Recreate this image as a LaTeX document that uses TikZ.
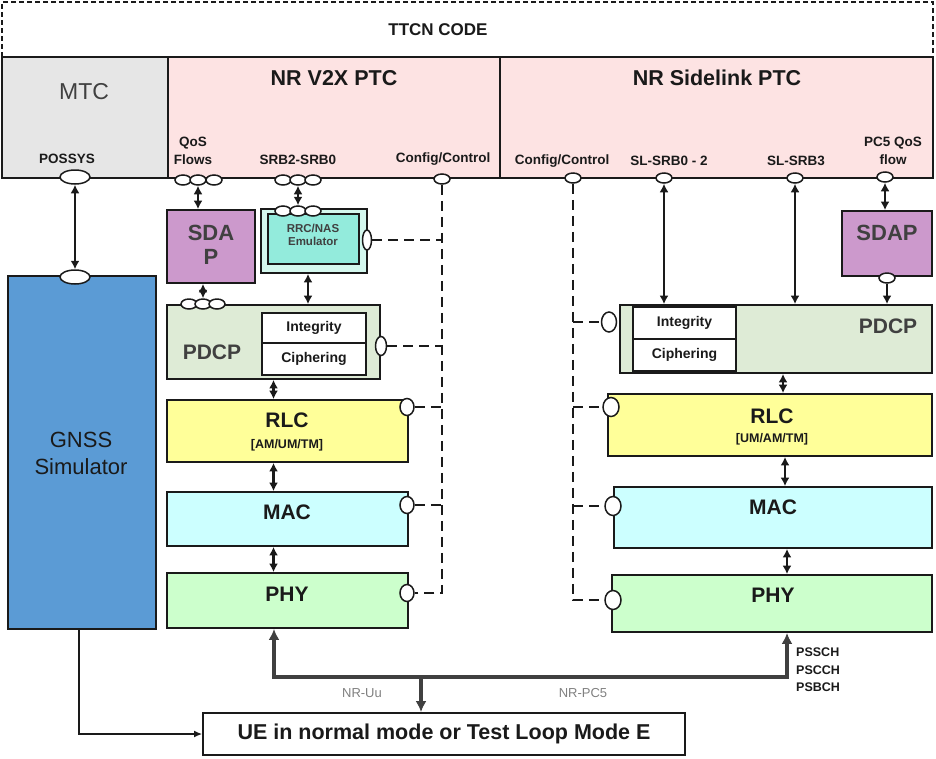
\documentclass[tikz,border=0pt]{standalone}
\usepackage{fontspec}
\setmainfont{Liberation Sans}
\usetikzlibrary{arrows.meta,fit,shapes.geometric}
\definecolor{mtcgray}{HTML}{E6E6E6}
\definecolor{ptcpink}{HTML}{FDE3E3}
\definecolor{sdapc}{HTML}{CC99CC}
\definecolor{rrcout}{HTML}{D4F8EE}
\definecolor{rrcin}{HTML}{93EBDC}
\definecolor{pdcpc}{HTML}{DEEBD6}
\definecolor{rlcc}{HTML}{FFFF99}
\definecolor{macc}{HTML}{CCFFFF}
\definecolor{phyc}{HTML}{CCFFCC}
\definecolor{gnssc}{HTML}{5B9BD5}
\definecolor{ink}{HTML}{1A1A1A}
\definecolor{dim}{HTML}{404040}
\definecolor{lgray}{HTML}{808080}
\begin{document}
\begin{tikzpicture}[x=1pt,y=-1pt,
 box/.style={draw=ink, line width=1.8pt, inner sep=0pt},
 port/.style={ellipse, draw=ink, line width=1.5pt, fill=white, inner sep=0pt, minimum width=16, minimum height=10},
 vport/.style={port, minimum width=12, minimum height=19},
 lbl/.style={font=\fontsize{13.5}{18}\selectfont\bfseries, text=ink, align=center, inner sep=0pt},
 ttl/.style={font=\fontsize{21.5}{24}\selectfont\bfseries, text=ink, align=center, inner sep=0pt},
 layer/.style={font=\fontsize{21}{24}\selectfont\bfseries, text=ink, align=center, inner sep=0pt},
 sub/.style={font=\fontsize{12.5}{17.5}\selectfont\bfseries, text=ink, inner sep=0pt},
 secbox/.style={font=\fontsize{14}{16}\selectfont\bfseries, text=ink, inner sep=0pt},
 dbl/.style={{Latex[length=8.5pt,width=9pt]}-{Latex[length=8.5pt,width=9pt]}, line width=2.5pt, draw=ink},
 one/.style={-{Latex[length=8.5pt,width=9pt]}, line width=2.5pt, draw=ink},
 ctl/.style={draw=ink, line width=2.2pt, dash pattern=on 10pt off 6pt},
 bus/.style={draw=dim, line width=3.6pt, line join=miter},
]
\useasboundingbox (0,0) rectangle (936,758);

% outer TTCN frame
\node[box, line width=1.3pt, dash pattern=on 5pt off 3pt, fit={(2,2)(933,178)}] (ttcn) {};
\node[font=\fontsize{17}{20}\selectfont\bfseries, text=ink, inner sep=0pt] (ttcnl) at (438,30) {TTCN CODE};

% top components
\node[box, fill=mtcgray, fit={(2,57)(168,178)}] (mtc) {};
\node[box, fill=ptcpink, fit={(168,57)(500,178)}] (v2x) {};
\node[box, fill=ptcpink, fit={(500,57)(933,178)}] (slk) {};
\node[font=\fontsize{23}{26}\selectfont, text=dim, inner sep=0pt] (mtcl) at (84,92) {MTC};
\node[ttl] (v2xl) at (334,78) {NR V2X PTC};
\node[ttl] (slkl) at (717,78) {NR Sidelink PTC};

% port labels
\node[lbl] (l1) at (67,159) {POSSYS};
\node[lbl] (l2) at (193,151) {QoS\\Flows};
\node[lbl] (l3) at (298,160) {SRB2-SRB0};
\node[lbl] (l4) at (443,159) {Config/Control};
\node[lbl] (l5) at (562,161) {Config/Control};
\node[lbl] (l6) at (669,161) {SL-SRB0 - 2};
\node[lbl] (l7) at (796,161) {SL-SRB3};
\node[lbl] (l8) at (893,151) {PC5 QoS\\flow};

% ports on PTC border
\node[port, minimum width=30, minimum height=14] (possys) at (75,177) {};
\node[port] (qos1) at (183,180) {};
\node[port] (qos2) at (198,180) {};
\node[port] (qos3) at (214,180) {};
\node[port] (srb1) at (283,180) {};
\node[port] (srb2) at (298,180) {};
\node[port] (srb3) at (313,180) {};
\node[port] (cfgL) at (442,179) {};
\node[port] (cfgR) at (573,178) {};
\node[port] (sl02) at (664,178) {};
\node[port] (sl3) at (795,178) {};
\node[port] (pc5) at (885,177) {};

% GNSS
\node[box, fill=gnssc, fit={(8,276)(156,629)}] (gnss) {};
\node[font=\fontsize{22}{27}\selectfont, text=ink, align=center, inner sep=0pt] (gnssl) at (81,453) {GNSS\\Simulator};
\node[port, minimum width=30, minimum height=14] (gnssp) at (75,277) {};
\draw[dbl] (possys.south) -- (gnssp.north);

% left SDAP
\node[box, fill=sdapc, fit={(167,210)(255,283)}] (sdapL) {};
\node[font=\fontsize{22}{24}\selectfont\bfseries, text=dim, align=center, inner sep=0pt] (sdapLl) at (211,245) {SDA\\P};
\draw[dbl] (qos2.south) -- (qos2.south |- sdapL.north);

% RRC/NAS emulator
\node[box, fill=rrcout, fit={(261,209)(367,273)}] (rrcO) {};
\node[box, fill=rrcin, fit={(268,214)(359,264)}] (rrc) {};
\node[font=\fontsize{11.5}{13.5}\selectfont\bfseries, text=dim, align=center, inner sep=0pt] (rrcl) at (313,235) {RRC/NAS\\Emulator};
\node[port] (rt1) at (283,211) {};
\node[port] (rt2) at (298,211) {};
\node[port] (rt3) at (313,211) {};
\node[port, minimum width=9, minimum height=20] (rrcp) at (367,240) {};
\draw[dbl] (srb2.south) -- (rt2.north);

% left PDCP
\node[box, fill=pdcpc, fit={(167,305)(380,379)}] (pdcpL) {};
\node[layer, text=dim] (pdcpLl) at (212,352) {PDCP};
\node[box, fill=white, fit={(262,313)(366,343)}] (intL) {};
\node[box, fill=white, fit={(262,343)(366,375)}] (cipL) {};
\node[secbox] (intLl) at (intL) {Integrity};
\node[secbox] (cipLl) at (cipL) {Ciphering};
\node[port] (pp1) at (189,304) {};
\node[port] (pp2) at (203,304) {};
\node[port] (pp3) at (217,304) {};
\node[vport, minimum width=11] (pdcpLp) at (381,346) {};
\draw[dbl] (pp2.north |- sdapL.south) -- (pp2.north);
\draw[dbl] ([xshift=-6pt]rrcO.south) -- ([xshift=-6pt]rrcO.south |- pdcpL.north);

% left RLC / MAC / PHY
\node[box, fill=rlcc, fit={(167,400)(408,462)}] (rlcL) {};
\node[layer] (rlcLl) at (287,420) {RLC};
\node[sub] (rlcLs) at (287,445) {[AM/UM/TM]};
\node[vport, minimum width=14, minimum height=17] (rlcLp) at (407,407) {};
\node[box, fill=macc, fit={(167,492)(408,546)}] (macL) {};
\node[layer] (macLl) at (287,512) {MAC};
\node[vport, minimum width=14, minimum height=17] (macLp) at (407,505) {};
\node[box, fill=phyc, fit={(167,573)(408,628)}] (phyL) {};
\node[layer] (phyLl) at (287,594) {PHY};
\node[vport, minimum width=14, minimum height=17] (phyLp) at (407,593) {};
\draw[dbl] (pdcpL.south) -- (pdcpL.south |- rlcL.north);
\draw[dbl] (pdcpL.south |- rlcL.south) -- (pdcpL.south |- macL.north);
\draw[dbl] (pdcpL.south |- macL.south) -- (pdcpL.south |- phyL.north);

% left control lines
\draw[ctl] (cfgL.south) |- (phyLp.east);
\draw[ctl] (rrcp.east) -- (rrcp.east -| cfgL.south);
\draw[ctl] (pdcpLp.east) -- (pdcpLp.east -| cfgL.south);
\draw[ctl] (rlcLp.east) -- (rlcLp.east -| cfgL.south);
\draw[ctl] (macLp.east) -- (macLp.east -| cfgL.south);

% right SDAP
\node[box, fill=sdapc, fit={(842,211)(932,276)}] (sdapR) {};
\node[font=\fontsize{22}{24}\selectfont\bfseries, text=dim, inner sep=0pt] (sdapRl) at (887,233) {SDAP};
\node[port] (sdapRp) at (887,278) {};
\draw[dbl] (pc5.south) -- (pc5.south |- sdapR.north);

% right PDCP
\node[box, fill=pdcpc, fit={(620,305)(932,373)}] (pdcpR) {};
\node[layer, text=dim] (pdcpRl) at (888,326) {PDCP};
\node[box, fill=white, fit={(633,307)(736,339)}] (intR) {};
\node[box, fill=white, fit={(633,339)(736,371)}] (cipR) {};
\node[secbox] (intRl) at (intR) {Integrity};
\node[secbox] (cipRl) at (cipR) {Ciphering};
\node[vport, minimum width=15, minimum height=20] (pdcpRp) at (609,322) {};
\draw[dbl] (sl02.south) -- (sl02.south |- pdcpR.north);
\draw[dbl] (sl3.south) -- (sl3.south |- pdcpR.north);
\draw[one] (sdapRp.south) -- (sdapRp.south |- pdcpR.north);

% right RLC / MAC / PHY
\node[box, fill=rlcc, fit={(608,394)(932,456)}] (rlcR) {};
\node[layer] (rlcRl) at (772,416) {RLC};
\node[sub] (rlcRs) at (772,439) {[UM/AM/TM]};
\node[vport, minimum width=16, minimum height=19] (rlcRp) at (611,407) {};
\node[box, fill=macc, fit={(614,487)(932,548)}] (macR) {};
\node[layer] (macRl) at (773,507) {MAC};
\node[vport, minimum width=16, minimum height=19] (macRp) at (613,506) {};
\node[box, fill=phyc, fit={(612,575)(932,632)}] (phyR) {};
\node[layer] (phyRl) at (773,595) {PHY};
\node[vport, minimum width=16, minimum height=19] (phyRp) at (613,600) {};
\draw[dbl] ([xshift=7pt]pdcpR.south) -- ([xshift=7pt]pdcpR.south |- rlcR.north);
\draw[dbl] ([xshift=15pt]rlcR.south) -- ([xshift=15pt]rlcR.south |- macR.north);
\draw[dbl] ([xshift=14pt]macR.south) -- ([xshift=14pt]macR.south |- phyR.north);

% right control lines
\draw[ctl] (cfgR.south) |- (phyRp.west);
\draw[ctl] (cfgR.south |- pdcpRp.west) -- (pdcpRp.west);
\draw[ctl] (cfgR.south |- rlcRp.west) -- (rlcRp.west);
\draw[ctl] (cfgR.south |- macRp.west) -- (macRp.west);

% UE and air interfaces
\node[box, fill=white, fit={(203,713)(685,755)}] (ue) {};
\node[font=\fontsize{21.5}{24}\selectfont\bfseries, text=ink, inner sep=0pt] (uel) at (ue) {UE in normal mode or Test Loop Mode E};
\coordinate (busL) at (274,677);
\coordinate (busM) at (421,677);
\coordinate (busR) at (787,677);
\draw[bus, {Latex[length=11pt,width=11pt]}-{Latex[length=11pt,width=11pt]}] (busL |- phyL.south) -- (busL) -- (busR) -- (busR |- phyR.south);
\draw[bus, -{Latex[length=11pt,width=11pt]}] (busM) -- (busM |- ue.north);
\node[font=\fontsize{13}{15}\selectfont, text=lgray, inner sep=0pt] (uu) at (362,693) {NR-Uu};
\node[font=\fontsize{13}{15}\selectfont, text=lgray, inner sep=0pt] (pc5l) at (583,693) {NR-PC5};
\node[sub, align=left, anchor=west] (pch) at (796,670) {PSSCH\\PSCCH\\PSBCH};
\draw[line width=1.5pt, draw=ink, -{Latex[length=8pt,width=7pt]}] ([xshift=-3pt]gnss.south) |- (ue.west);
\end{tikzpicture}
\end{document}
